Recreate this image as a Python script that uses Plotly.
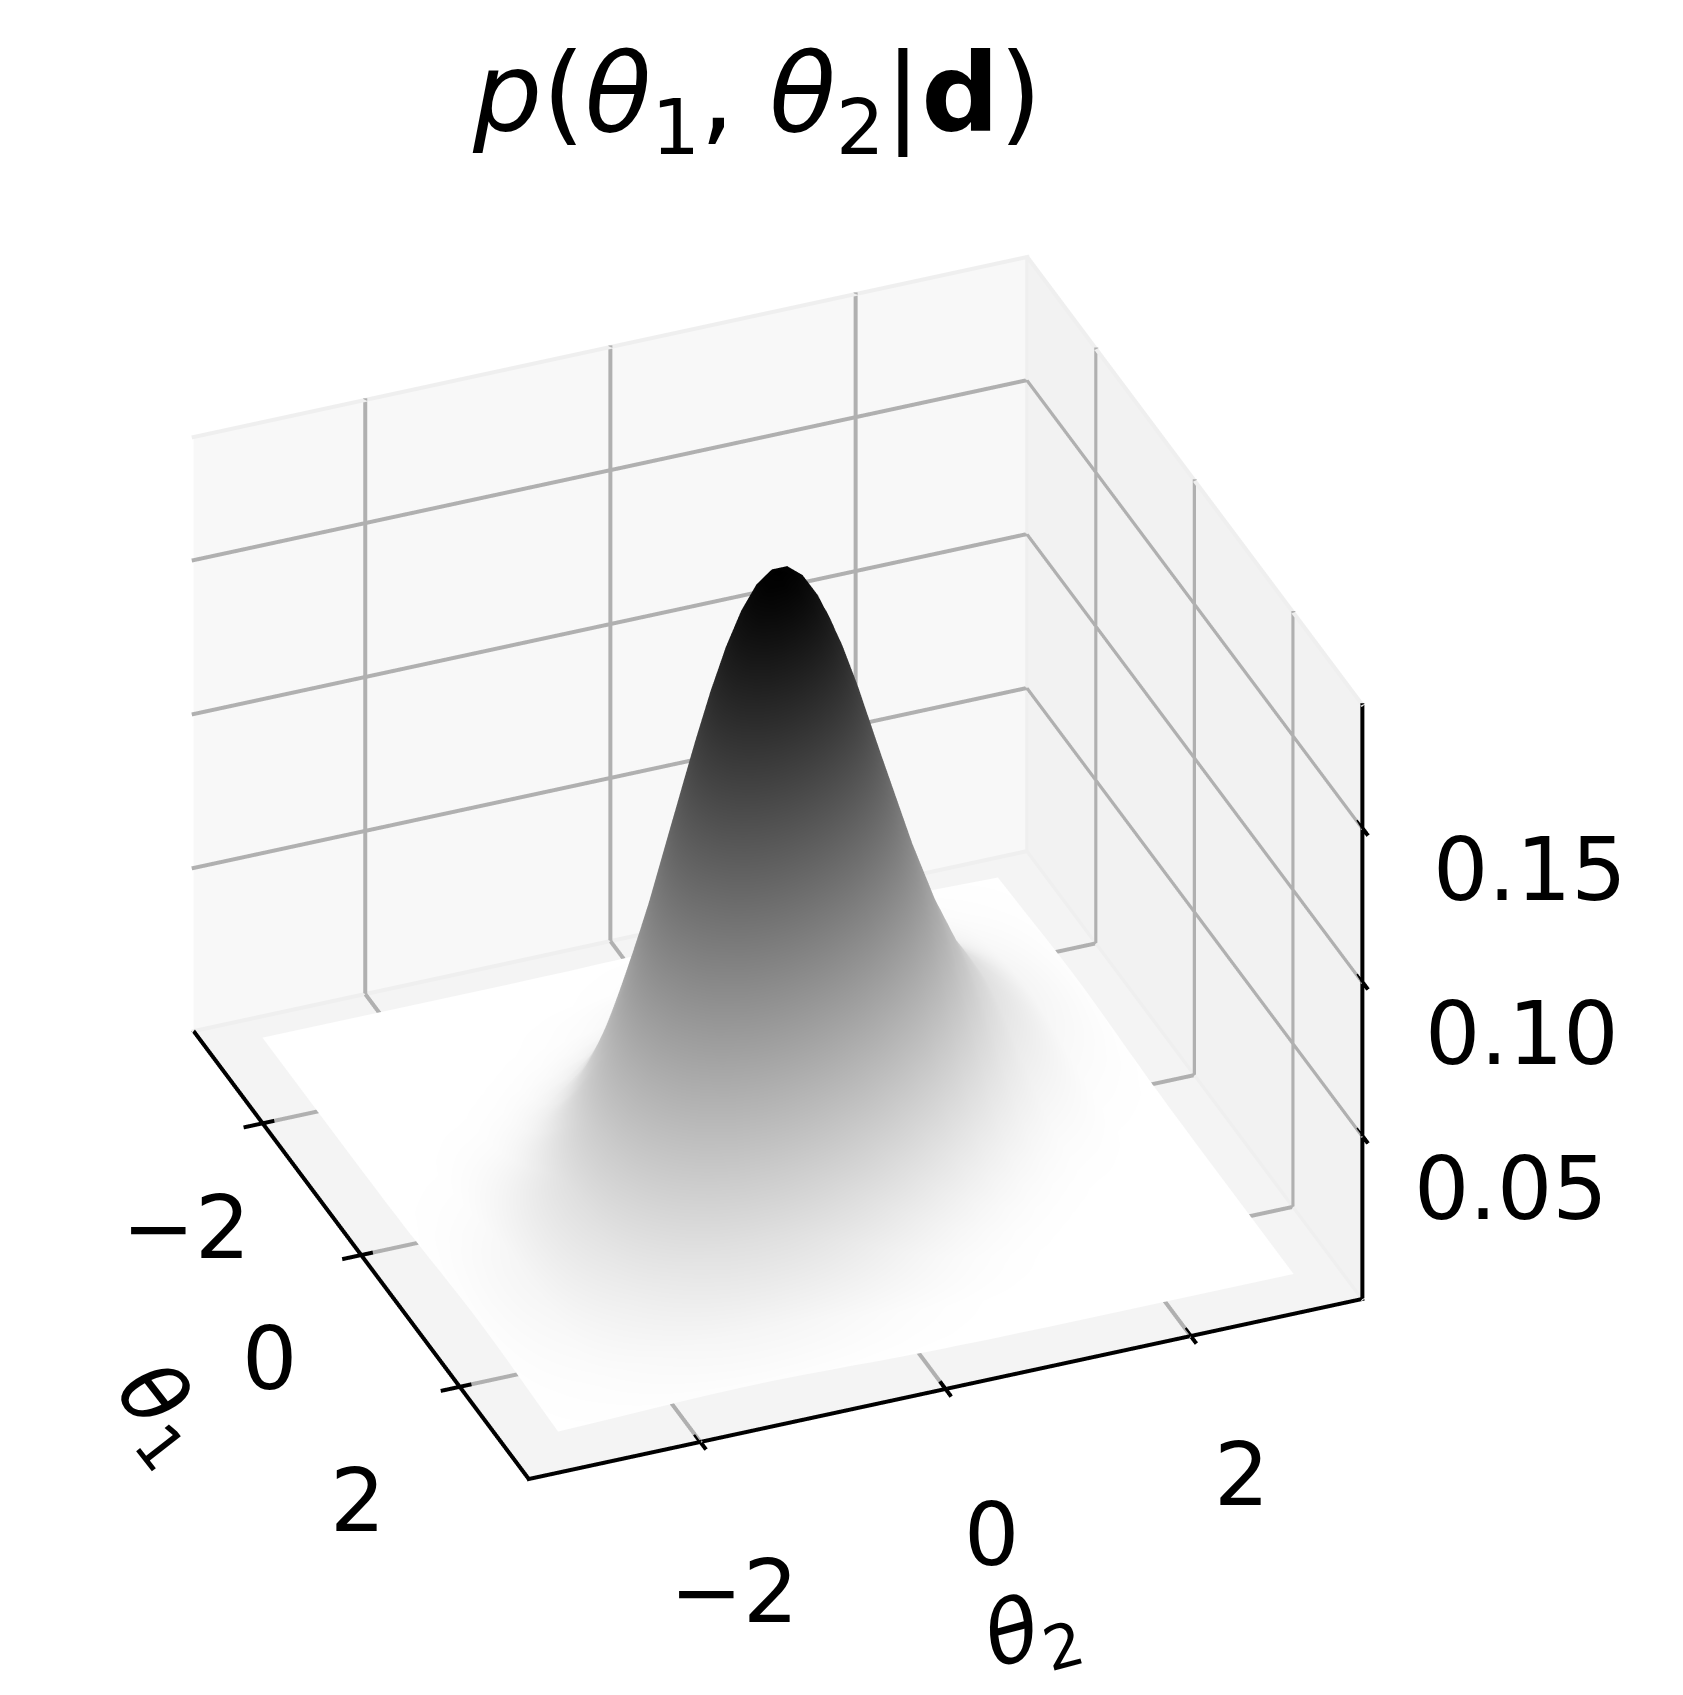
import numpy as np
import plotly.graph_objects as go

theta1 = [-3.0, -2.5, -2.0, -1.75, -1.5, -1.25, -1.0, -0.75, -0.625, -0.5, -0.375, -0.25, -0.125, 0.0,
          0.125, 0.25, 0.375, 0.5, 0.625, 0.75, 1.0, 1.25, 1.5, 1.75, 2.0, 2.5, 3.0]
theta2 = list(theta1)
# density, in units of 1e-4; rows are theta1, columns theta2
density_e4 = [
 [0,0,0,0,0,0,0,1,1,1,2,3,3,4,6,7,8,10,12,13,16,18,18,17,15,9,4],
 [0,0,0,0,1,1,3,6,8,11,14,18,23,28,34,41,47,54,60,66,74,76,72,62,50,25,9],
 [0,0,1,2,4,9,18,33,44,57,72,89,108,128,149,170,190,208,222,233,240,228,199,160,118,50,15],
 [0,0,2,4,10,20,40,70,91,115,143,173,206,240,274,306,335,359,376,386,383,349,292,225,160,62,17],
 [0,1,4,10,21,43,80,137,173,215,262,311,363,414,463,507,543,570,586,590,561,491,395,292,199,72,18],
 [0,1,9,20,43,84,149,245,304,370,441,514,587,656,719,771,810,833,839,827,756,635,491,349,228,76,18],
 [0,3,18,40,80,149,256,403,491,585,683,780,873,957,1027,1079,1111,1120,1105,1068,937,756,561,383,240,74,16],
 [1,6,33,70,137,245,403,611,728,850,973,1089,1195,1283,1349,1389,1401,1384,1338,1268,1068,827,590,386,233,66,13],
 [1,8,44,91,173,304,491,728,860,994,1125,1247,1354,1439,1498,1528,1525,1491,1428,1338,1105,839,586,376,222,60,12],
 [1,11,57,115,215,370,585,850,994,1137,1274,1399,1503,1582,1630,1645,1626,1573,1491,1384,1120,833,570,359,208,54,10],
 [2,14,72,143,262,441,683,973,1125,1274,1414,1536,1634,1702,1736,1734,1697,1626,1525,1401,1111,810,543,335,190,47,8],
 [3,18,89,173,311,514,780,1089,1247,1399,1536,1651,1739,1793,1811,1791,1734,1645,1528,1389,1079,771,507,306,170,41,7],
 [3,23,108,206,363,587,873,1195,1354,1503,1634,1739,1813,1850,1850,1811,1736,1630,1498,1349,1027,719,463,274,149,34,6],
 [4,28,128,240,414,656,957,1283,1439,1582,1702,1793,1850,1870,1850,1793,1702,1582,1439,1283,957,656,414,240,128,28,4],
 [6,34,149,274,463,719,1027,1349,1498,1630,1736,1811,1850,1850,1813,1739,1634,1503,1354,1195,873,587,363,206,108,23,3],
 [7,41,170,306,507,771,1079,1389,1528,1645,1734,1791,1811,1793,1739,1651,1536,1399,1247,1089,780,514,311,173,89,18,3],
 [8,47,190,335,543,810,1111,1401,1525,1626,1697,1734,1736,1702,1634,1536,1414,1274,1125,973,683,441,262,143,72,14,2],
 [10,54,208,359,570,833,1120,1384,1491,1573,1626,1645,1630,1582,1503,1399,1274,1137,994,850,585,370,215,115,57,11,1],
 [12,60,222,376,586,839,1105,1338,1428,1491,1525,1528,1498,1439,1354,1247,1125,994,860,728,491,304,173,91,44,8,1],
 [13,66,233,386,590,827,1068,1268,1338,1384,1401,1389,1349,1283,1195,1089,973,850,728,611,403,245,137,70,33,6,1],
 [16,74,240,383,561,756,937,1068,1105,1120,1111,1079,1027,957,873,780,683,585,491,403,256,149,80,40,18,3,0],
 [18,76,228,349,491,635,756,827,839,833,810,771,719,656,587,514,441,370,304,245,149,84,43,20,9,1,0],
 [18,72,199,292,395,491,561,590,586,570,543,507,463,414,363,311,262,215,173,137,80,43,21,10,4,1,0],
 [17,62,160,225,292,349,383,386,376,359,335,306,274,240,206,173,143,115,91,70,40,20,10,4,2,0,0],
 [15,50,118,160,199,228,240,233,222,208,190,170,149,128,108,89,72,57,44,33,18,9,4,2,1,0,0],
 [9,25,50,62,72,76,74,66,60,54,47,41,34,28,23,18,14,11,8,6,3,1,1,0,0,0,0],
 [4,9,15,17,18,18,16,13,12,10,8,7,6,4,3,3,2,1,1,1,0,0,0,0,0,0,0],
]
theta_ticks = [-2, 0, 2]
theta_tick_labels = ["\u22122", "0", "2"]
density_ticks = [0.05, 0.10, 0.15]
density_tick_labels = ["0.05", "0.10", "0.15"]
x_range = [-3.4, 3.4]
y_range = [-3.4, 3.4]
z_range = [-0.003, 0.19]

z = np.array(density_e4) / 9850.0
x0, x1 = x_range
y0, y1 = y_range
z0, z1 = z_range

# the scene box is larger than the panes so nothing at their outer edges is clipped
PAD = 1.25
SCALE = 1.076
PANE_SPAN = np.array([x1 - x0, y1 - y0, z1 - z0])
SPAN = PANE_SPAN * PAD
ASPECT = np.array([1.0, 1.0, 0.784]) * PAD * SCALE
zc = (z0 + z1) / 2
AZ, EL = np.radians(21.9), np.radians(32.5)
VIEW = np.array([np.cos(EL) * np.cos(AZ), -np.cos(EL) * np.sin(AZ), np.sin(EL)])
EYE_DIST = 2.5
UNIT_PX = 900.0 / SCALE      # screen pixels per scene unit
LIFT = 0.004
FLAT = dict(ambient=1, diffuse=0, specular=0, roughness=1, fresnel=0)


def ribbon_mesh(segments, color, width_px):
    """Thin camera-facing quads: WebGL lines cannot be wider than one pixel."""
    half = width_px / UNIT_PX / 2
    xs, ys, zs, ii, jj, kk = [], [], [], [], [], []
    for seg in segments:
        pts = np.array(seg, dtype=float) / SPAN * ASPECT
        for a, b in zip(pts[:-1], pts[1:]):
            d = b - a
            d = d / np.linalg.norm(d)
            side = np.cross(d, VIEW)
            side = side / np.linalg.norm(side) * half
            a2, b2 = a - d * half + VIEW * LIFT, b + d * half + VIEW * LIFT
            n = len(xs)
            for q in (a2 - side, a2 + side, b2 + side, b2 - side):
                q = q * SPAN / ASPECT
                xs.append(q[0]); ys.append(q[1]); zs.append(q[2])
            ii += [n, n]; jj += [n + 1, n + 2]; kk += [n + 2, n + 3]
    return go.Mesh3d(x=xs, y=ys, z=zs, i=ii, j=jj, k=kk, color=color, hoverinfo="skip",
                     flatshading=True, showscale=False, lighting=FLAT)


def pane(corners, color):
    xs, ys, zs = zip(*corners)
    return go.Mesh3d(x=xs, y=ys, z=zs, i=[0, 0], j=[1, 2], k=[2, 3], color=color,
                     hoverinfo="skip", flatshading=True, showscale=False, lighting=FLAT)


grid_segments = []
for t in theta_ticks:
    grid_segments.append([(t, y0, z0), (t, y1, z0), (t, y1, z1)])
    grid_segments.append([(x1, t, z0), (x0, t, z0), (x0, t, z1)])
for v in density_ticks:
    grid_segments.append([(x0, y0, v), (x0, y1, v), (x1, y1, v)])

edge_segments = [
    [(x1, y1, z0), (x0, y1, z0), (x0, y0, z0)],
    [(x0, y1, z0), (x0, y1, z1)],
    [(x0, y0, z1), (x0, y1, z1), (x1, y1, z1)],
]

axis_segments = [
    [(x0, y0, z0), (x1, y0, z0), (x1, y1, z0), (x1, y1, z1)],
]
tick_segments = []
for t in theta_ticks:
    tick_segments.append([(t, y0 - 0.14, z0), (t, y0 + 0.08, z0)])
    tick_segments.append([(x1 + 0.1, t, z0), (x1 - 0.1, t, z0)])
for v in density_ticks:
    tick_segments.append([(x1 + 0.1, y1, v), (x1 - 0.1, y1, v)])

fig = go.Figure()
fig.add_trace(pane([(x0, y0, z0), (x1, y0, z0), (x1, y1, z0), (x0, y1, z0)], "#f4f4f4"))
fig.add_trace(pane([(x0, y0, z0), (x0, y1, z0), (x0, y1, z1), (x0, y0, z1)], "#f8f8f8"))
fig.add_trace(pane([(x0, y1, z0), (x1, y1, z0), (x1, y1, z1), (x0, y1, z1)], "#f2f2f2"))
fig.add_trace(go.Surface(
    x=theta1, y=theta2, z=z.T,
    colorscale=[[0, "#ffffff"], [1, "#000000"]], cmin=0, cmax=0.19,
    showscale=False, hoverinfo="skip", lighting=FLAT,
    contours=dict(x=dict(highlight=False), y=dict(highlight=False), z=dict(highlight=False)),
))
fig.add_trace(ribbon_mesh(edge_segments, "#efefef", 4))
fig.add_trace(ribbon_mesh(grid_segments, "#b0b0b0", 4))
fig.add_trace(ribbon_mesh(axis_segments + tick_segments, "#000000", 4))

FONT = "DejaVu Sans"


def axis(rng):
    return dict(title=dict(text=""), range=rng, autorange=False, showticklabels=False, ticks="",
                showbackground=False, showgrid=False,
                zeroline=False, showline=False, showspikes=False)


def label(x, y, z_, text, dx, dy, size=87, angle=0):
    return dict(x=x, y=y, z=z_, text=text, showarrow=False, xshift=dx, yshift=dy,
                textangle=angle, xanchor="center", yanchor="middle",
                font=dict(family=FONT, size=size, color="black"))


theta1_shift = [(-77, -105), (-92, -104), (-102, -114)]
theta2_shift = [(34, -150), (46, -146), (51, -139)]
density_shift = [(149, -53), (160, -52), (168, -42)]
notes = []
for t, s, a, b in zip(theta_ticks, theta_tick_labels, theta1_shift, theta2_shift):
    notes.append(label(t, y0, z0, s, a[0], a[1]))
    notes.append(label(x1, t, z0, s, b[0], b[1]))
for v, s, c in zip(density_ticks, density_tick_labels, density_shift):
    notes.append(label(x1, y1, v, s, c[0], c[1]))
notes.append(label(x1, 0, z0, "<i>\u03b8</i><sub>2</sub>", 86, -243, angle=-15))
notes.append(label(0, y0, z0, "<i>\u03b8</i><sub>1</sub>", -200, -158, angle=52))

eye = VIEW * EYE_DIST
fig.update_layout(
    width=1683, height=1695, paper_bgcolor="white", showlegend=False,
    margin=dict(l=0, r=0, t=0, b=0),
    scene=dict(
        domain=dict(x=[0, 0.915], y=[0, 0.985]),
        xaxis=axis([-SPAN[0] / 2, SPAN[0] / 2]),
        yaxis=axis([-SPAN[1] / 2, SPAN[1] / 2]),
        zaxis=axis([zc - SPAN[2] / 2, zc + SPAN[2] / 2]),
        aspectmode="manual", aspectratio=dict(x=ASPECT[0], y=ASPECT[1], z=ASPECT[2]),
        camera=dict(eye=dict(x=eye[0], y=eye[1], z=eye[2]), up=dict(x=0, y=0, z=1),
                    center=dict(x=0, y=0, z=0), projection=dict(type="orthographic")),
        annotations=notes,
    ),
    annotations=[dict(
        text="<i>p</i>(<i>\u03b8</i><sub>1</sub>, <i>\u03b8</i><sub>2</sub>|<b>d</b>)",
        xref="paper", yref="paper", x=0.445, y=0.945, xanchor="center", yanchor="middle",
        showarrow=False, font=dict(family=FONT, size=109, color="black"),
    )],
)
fig.write_html("out.html")
